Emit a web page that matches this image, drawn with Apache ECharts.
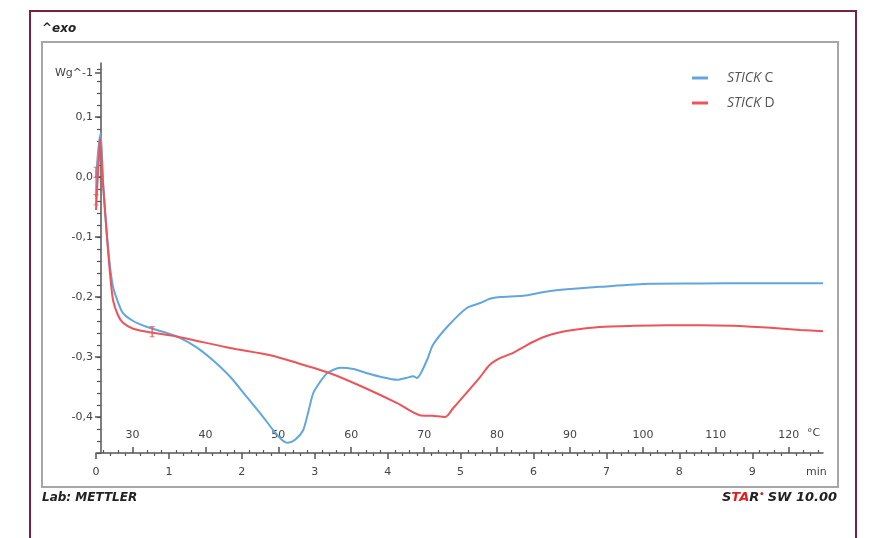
<!DOCTYPE html>
<html>
<head>
<meta charset="utf-8">
<script src="https://cdn.jsdelivr.net/npm/echarts@6/dist/echarts.min.js"></script>
<style>html,body{margin:0;padding:0;background:#fff}#c{width:871px;height:538px}</style>
</head>
<body>
<div id="c"></div>
<script>
// ---- data (time in min, heat flow in W/g) ----
var seriesNames = ['STICK C', 'STICK D'];
var stickC = [
  [0.00,-0.033],[0.014,0.02],[0.064,0.073],[0.096,-0.005],[0.147,-0.093],[0.19,-0.147],
  [0.233,-0.183],[0.30,-0.208],[0.37,-0.227],[0.51,-0.24],[0.70,-0.25],[0.97,-0.26],
  [1.15,-0.268],[1.37,-0.283],[1.60,-0.305],[1.84,-0.333],[2.07,-0.367],[2.28,-0.398],
  [2.43,-0.422],[2.54,-0.437],[2.63,-0.443],[2.73,-0.438],[2.84,-0.422],[2.91,-0.392],
  [2.98,-0.36],[3.07,-0.342],[3.17,-0.327],[3.35,-0.318],[3.53,-0.32],[3.72,-0.327],
  [3.90,-0.333],[4.13,-0.338],[4.25,-0.335],[4.35,-0.332],[4.40,-0.335],[4.54,-0.305],
  [4.62,-0.28],[4.83,-0.248],[5.09,-0.218],[5.27,-0.21],[5.40,-0.203],[5.54,-0.2],
  [5.86,-0.198],[6.09,-0.193],[6.23,-0.19],[6.46,-0.187],[6.91,-0.183],[7.60,-0.178],
  [8.29,-0.1775],[8.97,-0.177],[9.97,-0.177]
];
var stickD = [
  [0.00,-0.055],[0.02,-0.01],[0.045,0.04],[0.055,0.065],[0.096,-0.013],[0.165,-0.122],
  [0.19,-0.158],[0.233,-0.205],[0.30,-0.23],[0.37,-0.243],[0.51,-0.253],[0.70,-0.258],
  [1.15,-0.267],[1.84,-0.285],[2.39,-0.297],[2.76,-0.31],[3.21,-0.327],[3.66,-0.35],
  [4.13,-0.377],[4.44,-0.397],[4.61,-0.398],[4.79,-0.4],[4.90,-0.385],[5.03,-0.367],
  [5.27,-0.333],[5.40,-0.313],[5.54,-0.302],[5.72,-0.293],[5.99,-0.275],[6.23,-0.263],
  [6.54,-0.255],[6.91,-0.25],[7.37,-0.248],[7.83,-0.247],[8.29,-0.247],[8.74,-0.248],
  [9.20,-0.251],[9.66,-0.255],[9.97,-0.257]
];
var stickDMarks = [[0.0,0.008],[0.0,-0.038],[0.77,-0.258]];

// ---- axis ticks / labels ----
var minuteLabels = [0,1,2,3,4,5,6,7,8,9];
var tempLabels = [30,40,50,60,70,80,90,100,110,120];
var yLabelValues = [0.173,0.1,0,-0.1,-0.2,-0.3,-0.4];
var yLabelTexts = ['Wg^-1','0,1','0,0','-0,1','-0,2','-0,3','-0,4'];
var timeMin = 0, timeMax = 9.97;
var tempMin = 25, tempMax = 25 + 10 * 9.97;
var yMin = -0.46, yMax = 0.19;

var minuteMinor = [];
for (var i = 1; i < 50; i++) { if (i % 5) minuteMinor.push(i / 5); }
var tempMinor = [];
for (var t = 26; t <= 124; t += 2) { if (t % 10) tempMinor.push(t); }
var yMinor = [];
for (var k = -23; k <= 9; k++) { yMinor.push(k / 50); }

var axisColor = '#555';
var chart = echarts.init(document.getElementById('c'));
function hiddenLine(){ return {show:false, onZero:false}; }
chart.setOption({
  animation: false,
  backgroundColor: '#fff',
  grid: { left: 96, right: 48, top: 63, bottom: 85, containLabel: false },
  legend: {
    data: seriesNames,
    orient: 'vertical', left: 687, top: 66, itemGap: 11,
    icon: 'rect', itemWidth: 16, itemHeight: 3,
    formatter: function (n) { var p = n.split(' '); return '{p|}{i|' + p[0] + '} ' + p[1]; },
    textStyle: {
      fontFamily: 'Open Sans', fontSize: 14, color: '#555',
      rich: { p: { width: 14 }, i: { fontStyle: 'italic', fontFamily: 'Open Sans', fontSize: 14, color: '#555' } }
    }
  },
  xAxis: [
    { type: 'value', min: timeMin, max: timeMax, position: 'bottom',
      axisLine: { show: true, onZero: false, lineStyle: { color: axisColor, width: 1.5 } },
      axisTick: { show: true, customValues: minuteLabels, length: 6, lineStyle: { color: axisColor, width: 1.5 } },
      axisLabel: { customValues: minuteLabels, margin: 14, color: '#444', fontFamily: 'DejaVu Sans', fontSize: 11 },
      splitLine: { show: false } },
    { type: 'value', min: timeMin, max: timeMax, position: 'bottom',
      axisLine: hiddenLine(),
      axisTick: { show: true, customValues: minuteMinor, length: 3, lineStyle: { color: axisColor, width: 1.2 } },
      axisLabel: { show: false }, splitLine: { show: false } },
    { type: 'value', min: tempMin, max: tempMax, position: 'bottom',
      axisLine: hiddenLine(),
      axisTick: { show: true, inside: true, customValues: tempLabels, length: 6, lineStyle: { color: axisColor, width: 1.5 } },
      axisLabel: { inside: true, customValues: tempLabels, margin: 12, color: '#444', fontFamily: 'DejaVu Sans', fontSize: 11 },
      splitLine: { show: false } },
    { type: 'value', min: tempMin, max: tempMax, position: 'bottom',
      axisLine: hiddenLine(),
      axisTick: { show: true, inside: true, customValues: tempMinor, length: 3, lineStyle: { color: axisColor, width: 1.2 } },
      axisLabel: { show: false }, splitLine: { show: false } }
  ],
  yAxis: [
    { type: 'value', min: yMin, max: yMax, position: 'left', offset: -5,
      axisLine: { show: true, onZero: false, lineStyle: { color: axisColor, width: 1.5 } },
      axisTick: { show: true, customValues: yLabelValues, length: 6, lineStyle: { color: axisColor, width: 1.5 } },
      axisLabel: { customValues: yLabelValues, margin: 8, color: '#444', fontFamily: 'DejaVu Sans', fontSize: 11,
        formatter: function (v) {
          for (var j = 0; j < yLabelValues.length; j++) { if (Math.abs(yLabelValues[j] - v) < 1e-6) return yLabelTexts[j]; }
          return '';
        } },
      splitLine: { show: false } },
    { type: 'value', min: yMin, max: yMax, position: 'left', offset: -5,
      axisLine: hiddenLine(),
      axisTick: { show: true, customValues: yMinor, length: 4, lineStyle: { color: axisColor, width: 1.2 } },
      axisLabel: { show: false }, splitLine: { show: false } }
  ],
  series: [
    { name: seriesNames[0], type: 'line', xAxisIndex: 0, yAxisIndex: 0, data: stickC,
      smooth: 0.25, showSymbol: false, symbol: 'none',
      lineStyle: { color: '#62a6de', width: 2 }, itemStyle: { color: '#62a6de' } },
    { name: seriesNames[1], type: 'line', xAxisIndex: 0, yAxisIndex: 0, data: stickD,
      smooth: 0.25, showSymbol: false, symbol: 'none',
      lineStyle: { color: '#ec5459', width: 2 }, itemStyle: { color: '#ec5459' },
      markPoint: {
        symbol: 'path://M0,0H4V1H2.5V11H4V12H0V11H1.5V1H0Z', symbolSize: [5, 11],
        itemStyle: { color: '#ec5459' }, label: { show: false }, silent: true,
        data: stickDMarks.map(function (p) { return { coord: p }; })
      } }
  ],
  graphic: [
    { type: 'rect', shape: { x: 30, y: 11, width: 826, height: 620 }, style: { fill: 'none', stroke: '#7a2140', lineWidth: 2 }, silent: true },
    { type: 'rect', shape: { x: 42, y: 42, width: 796, height: 445 }, style: { fill: 'none', stroke: '#a6a6a6', lineWidth: 2 }, silent: true },
    { type: 'text', left: 42, top: 23, style: { text: '^exo', font: 'italic bold 12px "DejaVu Sans"', fill: '#222' } },
    { type: 'text', left: 42, top: 492, style: { text: 'Lab: METTLER', font: 'italic bold 12px "DejaVu Sans"', fill: '#222' } },
    { type: 'text', right: 34, top: 491, style: {
        text: '{d|S}{r|TA}{d|R}{s|\u2022} {d|SW 10.00}',
        rich: {
          d: { font: 'italic bold 13px "DejaVu Sans"', fill: '#222' },
          r: { font: 'italic bold 13px "DejaVu Sans"', fill: '#e02020' },
          s: { font: 'bold 8px "DejaVu Sans"', fill: '#e02020', verticalAlign: 'top' }
        } } },
    { type: 'text', left: 806, top: 467, style: { text: 'min', font: '11px "DejaVu Sans"', fill: '#444' } },
    { type: 'text', left: 807, top: 428, style: { text: '\u00B0C', font: '11px "DejaVu Sans"', fill: '#444' } }
  ]
});
</script>
</body>
</html>
